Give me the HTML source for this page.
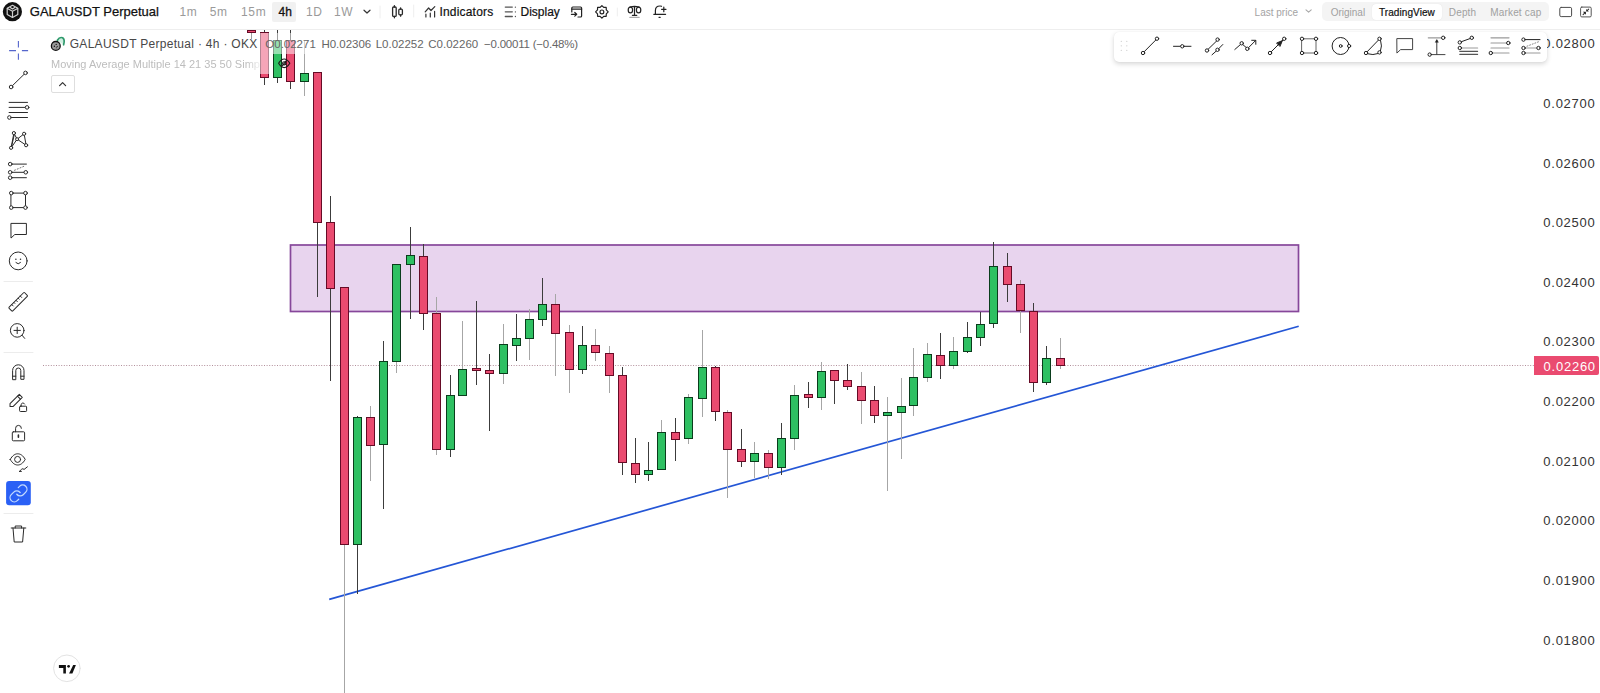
<!DOCTYPE html>
<html><head><meta charset="utf-8">
<style>
html,body{margin:0;padding:0;width:1600px;height:693px;overflow:hidden;background:#fff;font-family:"Liberation Sans",sans-serif;}
.t{position:absolute;white-space:nowrap;}
.a{position:absolute;}
svg{position:absolute;left:0;top:0;}
</style></head><body>
<!-- top bar bottom border -->
<div class="a" style="left:0;top:29px;width:1600px;height:1px;background:#eeeeee"></div>

<!-- chart -->
<svg width="1600" height="693" viewBox="0 0 1600 693">
<defs><clipPath id="cp"><rect x="36" y="30" width="1498" height="663"/></clipPath></defs>
<g clip-path="url(#cp)">
<rect x="290.5" y="245" width="1008" height="66.5" fill="#e8d4ee" stroke="#86479a" stroke-width="1.7"/>
<line x1="43" y1="365.5" x2="1534" y2="365.5" stroke="#b28f9b" stroke-width="1" stroke-dasharray="1 1.6"/>
<line x1="329.2" y1="599.4" x2="1298.7" y2="326.3" stroke="#2456d6" stroke-width="1.7"/>
<g shape-rendering="crispEdges">
<rect x="251" y="30.0" width="1" height="9.0" fill="#3c3c3c"/>
<rect x="247.5" y="30.0" width="8" height="2.3" fill="#ea4b70" stroke="#660b26" stroke-width="1"/>
<rect x="264" y="30.0" width="1" height="54.8" fill="#3c3c3c"/>
<rect x="260.5" y="32.1" width="8" height="45.6" fill="#ea4b70" stroke="#660b26" stroke-width="1"/>
<rect x="277" y="30.0" width="1" height="53.4" fill="#3c3c3c"/>
<rect x="273.5" y="40.1" width="8" height="37.6" fill="#2ec062" stroke="#0a3d1c" stroke-width="1"/>
<rect x="290" y="30.0" width="1" height="59.2" fill="#3c3c3c"/>
<rect x="286.5" y="40.1" width="8" height="41.6" fill="#ea4b70" stroke="#660b26" stroke-width="1"/>
<rect x="304" y="41.0" width="1" height="54.8" fill="#a6a6a6"/>
<rect x="300.5" y="73.0" width="8" height="8.8" fill="#2ec062" stroke="#0a3d1c" stroke-width="1"/>
<rect x="317" y="72.1" width="1" height="224.9" fill="#3c3c3c"/>
<rect x="313.5" y="72.1" width="8" height="150.1" fill="#ea4b70" stroke="#660b26" stroke-width="1"/>
<rect x="330" y="196.2" width="1" height="185.0" fill="#3c3c3c"/>
<rect x="326.5" y="222.8" width="8" height="65.9" fill="#ea4b70" stroke="#660b26" stroke-width="1"/>
<rect x="344" y="287.6" width="1" height="405.4" fill="#a6a6a6"/>
<rect x="340.5" y="287.6" width="8" height="257.0" fill="#ea4b70" stroke="#660b26" stroke-width="1"/>
<rect x="357" y="415.8" width="1" height="178.0" fill="#3c3c3c"/>
<rect x="353.5" y="417.9" width="8" height="126.7" fill="#2ec062" stroke="#0a3d1c" stroke-width="1"/>
<rect x="370" y="405.8" width="1" height="75.2" fill="#a6a6a6"/>
<rect x="366.5" y="417.9" width="8" height="27.1" fill="#ea4b70" stroke="#660b26" stroke-width="1"/>
<rect x="383" y="341.0" width="1" height="167.7" fill="#3c3c3c"/>
<rect x="379.5" y="361.4" width="8" height="82.8" fill="#2ec062" stroke="#0a3d1c" stroke-width="1"/>
<rect x="396" y="264.0" width="1" height="109.2" fill="#a6a6a6"/>
<rect x="392.5" y="264.0" width="8" height="97.5" fill="#2ec062" stroke="#0a3d1c" stroke-width="1"/>
<rect x="410" y="226.5" width="1" height="92.0" fill="#3c3c3c"/>
<rect x="406.5" y="255.0" width="8" height="9.8" fill="#2ec062" stroke="#0a3d1c" stroke-width="1"/>
<rect x="423" y="243.5" width="1" height="86.5" fill="#3c3c3c"/>
<rect x="419.5" y="256.1" width="8" height="57.8" fill="#ea4b70" stroke="#660b26" stroke-width="1"/>
<rect x="436" y="297.0" width="1" height="158.2" fill="#a6a6a6"/>
<rect x="432.5" y="313.9" width="8" height="135.6" fill="#ea4b70" stroke="#660b26" stroke-width="1"/>
<rect x="450" y="375.0" width="1" height="82.0" fill="#3c3c3c"/>
<rect x="446.5" y="395.0" width="8" height="54.0" fill="#2ec062" stroke="#0a3d1c" stroke-width="1"/>
<rect x="462" y="320.8" width="1" height="74.2" fill="#a6a6a6"/>
<rect x="458.5" y="369.0" width="8" height="26.0" fill="#2ec062" stroke="#0a3d1c" stroke-width="1"/>
<rect x="476" y="301.2" width="1" height="83.8" fill="#3c3c3c"/>
<rect x="472.5" y="368.4" width="8" height="1.6" fill="#ea4b70" stroke="#660b26" stroke-width="1"/>
<rect x="489" y="353.8" width="1" height="77.3" fill="#3c3c3c"/>
<rect x="485.5" y="370.1" width="8" height="3.7" fill="#ea4b70" stroke="#660b26" stroke-width="1"/>
<rect x="503" y="323.6" width="1" height="60.7" fill="#a6a6a6"/>
<rect x="499.5" y="344.7" width="8" height="28.9" fill="#2ec062" stroke="#0a3d1c" stroke-width="1"/>
<rect x="516" y="314.3" width="1" height="46.9" fill="#3c3c3c"/>
<rect x="512.5" y="338.6" width="8" height="7.2" fill="#2ec062" stroke="#0a3d1c" stroke-width="1"/>
<rect x="529" y="309.1" width="1" height="50.9" fill="#a6a6a6"/>
<rect x="525.5" y="319.6" width="8" height="19.2" fill="#2ec062" stroke="#0a3d1c" stroke-width="1"/>
<rect x="542" y="278.3" width="1" height="48.1" fill="#3c3c3c"/>
<rect x="538.5" y="304.2" width="8" height="15.6" fill="#2ec062" stroke="#0a3d1c" stroke-width="1"/>
<rect x="555" y="294.2" width="1" height="81.4" fill="#a6a6a6"/>
<rect x="551.5" y="304.2" width="8" height="28.9" fill="#ea4b70" stroke="#660b26" stroke-width="1"/>
<rect x="569" y="324.8" width="1" height="68.1" fill="#a6a6a6"/>
<rect x="565.5" y="332.4" width="8" height="37.2" fill="#ea4b70" stroke="#660b26" stroke-width="1"/>
<rect x="582" y="326.4" width="1" height="47.6" fill="#3c3c3c"/>
<rect x="578.5" y="345.7" width="8" height="23.9" fill="#2ec062" stroke="#0a3d1c" stroke-width="1"/>
<rect x="595" y="328.8" width="1" height="31.9" fill="#a6a6a6"/>
<rect x="591.5" y="345.7" width="8" height="6.7" fill="#ea4b70" stroke="#660b26" stroke-width="1"/>
<rect x="609" y="345.7" width="1" height="47.2" fill="#a6a6a6"/>
<rect x="605.5" y="353.4" width="8" height="22.0" fill="#ea4b70" stroke="#660b26" stroke-width="1"/>
<rect x="622" y="367.3" width="1" height="107.5" fill="#3c3c3c"/>
<rect x="618.5" y="375.0" width="8" height="87.6" fill="#ea4b70" stroke="#660b26" stroke-width="1"/>
<rect x="635" y="438.4" width="1" height="44.2" fill="#3c3c3c"/>
<rect x="631.5" y="463.1" width="8" height="11.7" fill="#ea4b70" stroke="#660b26" stroke-width="1"/>
<rect x="648" y="442.3" width="1" height="39.0" fill="#3c3c3c"/>
<rect x="644.5" y="470.1" width="8" height="4.7" fill="#2ec062" stroke="#0a3d1c" stroke-width="1"/>
<rect x="661" y="419.6" width="1" height="49.7" fill="#a6a6a6"/>
<rect x="657.5" y="432.4" width="8" height="36.9" fill="#2ec062" stroke="#0a3d1c" stroke-width="1"/>
<rect x="675" y="418.1" width="1" height="43.2" fill="#3c3c3c"/>
<rect x="671.5" y="432.4" width="8" height="7.3" fill="#ea4b70" stroke="#660b26" stroke-width="1"/>
<rect x="688" y="394.1" width="1" height="50.2" fill="#a6a6a6"/>
<rect x="684.5" y="397.3" width="8" height="41.2" fill="#2ec062" stroke="#0a3d1c" stroke-width="1"/>
<rect x="702" y="330.4" width="1" height="86.2" fill="#a6a6a6"/>
<rect x="698.5" y="367.4" width="8" height="30.6" fill="#2ec062" stroke="#0a3d1c" stroke-width="1"/>
<rect x="715" y="366.2" width="1" height="55.1" fill="#3c3c3c"/>
<rect x="711.5" y="367.3" width="8" height="44.1" fill="#ea4b70" stroke="#660b26" stroke-width="1"/>
<rect x="727" y="410.4" width="1" height="87.5" fill="#a6a6a6"/>
<rect x="723.5" y="412.2" width="8" height="36.9" fill="#ea4b70" stroke="#660b26" stroke-width="1"/>
<rect x="741" y="429.1" width="1" height="37.7" fill="#3c3c3c"/>
<rect x="737.5" y="449.9" width="8" height="11.7" fill="#ea4b70" stroke="#660b26" stroke-width="1"/>
<rect x="754" y="442.1" width="1" height="36.3" fill="#a6a6a6"/>
<rect x="750.5" y="453.2" width="8" height="8.4" fill="#2ec062" stroke="#0a3d1c" stroke-width="1"/>
<rect x="768" y="449.9" width="1" height="29.1" fill="#a6a6a6"/>
<rect x="764.5" y="453.2" width="8" height="14.3" fill="#ea4b70" stroke="#660b26" stroke-width="1"/>
<rect x="781" y="423.1" width="1" height="52.0" fill="#3c3c3c"/>
<rect x="777.5" y="438.2" width="8" height="29.3" fill="#2ec062" stroke="#0a3d1c" stroke-width="1"/>
<rect x="794" y="384.6" width="1" height="65.1" fill="#a6a6a6"/>
<rect x="790.5" y="395.0" width="8" height="43.6" fill="#2ec062" stroke="#0a3d1c" stroke-width="1"/>
<rect x="808" y="382.3" width="1" height="25.4" fill="#3c3c3c"/>
<rect x="804.5" y="394.3" width="8" height="3.4" fill="#ea4b70" stroke="#660b26" stroke-width="1"/>
<rect x="821" y="362.4" width="1" height="47.3" fill="#a6a6a6"/>
<rect x="817.5" y="371.2" width="8" height="26.5" fill="#2ec062" stroke="#0a3d1c" stroke-width="1"/>
<rect x="834" y="370.0" width="1" height="34.2" fill="#3c3c3c"/>
<rect x="830.5" y="370.5" width="8" height="10.4" fill="#ea4b70" stroke="#660b26" stroke-width="1"/>
<rect x="847" y="363.8" width="1" height="25.9" fill="#3c3c3c"/>
<rect x="843.5" y="380.9" width="8" height="5.6" fill="#ea4b70" stroke="#660b26" stroke-width="1"/>
<rect x="861" y="372.3" width="1" height="52.0" fill="#a6a6a6"/>
<rect x="857.5" y="386.1" width="8" height="14.5" fill="#ea4b70" stroke="#660b26" stroke-width="1"/>
<rect x="874" y="386.1" width="1" height="36.7" fill="#3c3c3c"/>
<rect x="870.5" y="400.4" width="8" height="15.3" fill="#ea4b70" stroke="#660b26" stroke-width="1"/>
<rect x="887" y="397.4" width="1" height="93.4" fill="#a6a6a6"/>
<rect x="883.5" y="412.7" width="8" height="2.9" fill="#2ec062" stroke="#0a3d1c" stroke-width="1"/>
<rect x="901" y="378.0" width="1" height="81.0" fill="#a6a6a6"/>
<rect x="897.5" y="406.1" width="8" height="6.6" fill="#2ec062" stroke="#0a3d1c" stroke-width="1"/>
<rect x="913" y="348.3" width="1" height="67.3" fill="#a6a6a6"/>
<rect x="909.5" y="377.5" width="8" height="28.0" fill="#2ec062" stroke="#0a3d1c" stroke-width="1"/>
<rect x="927" y="343.4" width="1" height="39.0" fill="#a6a6a6"/>
<rect x="923.5" y="354.9" width="8" height="22.6" fill="#2ec062" stroke="#0a3d1c" stroke-width="1"/>
<rect x="940" y="333.1" width="1" height="45.9" fill="#3c3c3c"/>
<rect x="936.5" y="355.6" width="8" height="10.2" fill="#ea4b70" stroke="#660b26" stroke-width="1"/>
<rect x="953" y="337.2" width="1" height="31.8" fill="#a6a6a6"/>
<rect x="949.5" y="351.6" width="8" height="14.2" fill="#2ec062" stroke="#0a3d1c" stroke-width="1"/>
<rect x="967" y="322.1" width="1" height="31.0" fill="#3c3c3c"/>
<rect x="963.5" y="337.7" width="8" height="14.1" fill="#2ec062" stroke="#0a3d1c" stroke-width="1"/>
<rect x="980" y="311.9" width="1" height="34.1" fill="#3c3c3c"/>
<rect x="976.5" y="324.3" width="8" height="13.6" fill="#2ec062" stroke="#0a3d1c" stroke-width="1"/>
<rect x="993" y="242.2" width="1" height="86.1" fill="#3c3c3c"/>
<rect x="989.5" y="266.4" width="8" height="57.4" fill="#2ec062" stroke="#0a3d1c" stroke-width="1"/>
<rect x="1007" y="252.5" width="1" height="49.1" fill="#3c3c3c"/>
<rect x="1003.5" y="266.3" width="8" height="18.1" fill="#ea4b70" stroke="#660b26" stroke-width="1"/>
<rect x="1020" y="280.2" width="1" height="52.3" fill="#a6a6a6"/>
<rect x="1016.5" y="284.4" width="8" height="26.5" fill="#ea4b70" stroke="#660b26" stroke-width="1"/>
<rect x="1033" y="303.0" width="1" height="88.8" fill="#3c3c3c"/>
<rect x="1029.5" y="311.6" width="8" height="70.9" fill="#ea4b70" stroke="#660b26" stroke-width="1"/>
<rect x="1046" y="345.7" width="1" height="39.2" fill="#3c3c3c"/>
<rect x="1042.5" y="358.7" width="8" height="23.8" fill="#2ec062" stroke="#0a3d1c" stroke-width="1"/>
<rect x="1060" y="337.8" width="1" height="31.4" fill="#a6a6a6"/>
<rect x="1056.5" y="358.7" width="8" height="6.6" fill="#ea4b70" stroke="#660b26" stroke-width="1"/>
</g>
</g>
</svg>

<!-- legend overlays -->
<div class="a" style="left:48px;top:33px;width:534px;height:21px;background:rgba(255,255,255,0.5)"></div>
<div class="a" style="left:48px;top:54px;width:223px;height:20px;background:rgba(255,255,255,0.5)"></div>

<!-- legend text -->
<div class="t" style="left:69.7px;top:38px;font-size:12px;line-height:13.404px;color:#484848;font-weight:normal;letter-spacing:0.3px">GALAUSDT Perpetual · 4h · OKX</div>
<div class="t" style="left:265.3px;top:38px;font-size:11.5px;line-height:12.845px;color:#666;font-weight:normal;">O0.02271</div>
<div class="t" style="left:321.4px;top:38px;font-size:11.5px;line-height:12.845px;color:#666;font-weight:normal;">H0.02306</div>
<div class="t" style="left:375.7px;top:38px;font-size:11.5px;line-height:12.845px;color:#666;font-weight:normal;">L0.02252</div>
<div class="t" style="left:428.3px;top:38px;font-size:11.5px;line-height:12.845px;color:#666;font-weight:normal;">C0.02260</div>
<div class="t" style="left:484px;top:38px;font-size:11.5px;line-height:12.845px;color:#666;font-weight:normal;letter-spacing:-0.22px">−0.00011 (−0.48%)</div>
<div class="a" style="left:51px;top:54px;width:212px;height:20px;overflow:hidden;-webkit-mask-image:linear-gradient(to right,#000 92%,transparent 100%)">
<div class="t" style="left:0px;top:4px;font-size:11px;line-height:12.287px;color:#bdbdbd;font-weight:normal;letter-spacing:0px">Moving Average Multiple 14 21 35 50 Simple</div>
</div>
<div class="a" style="left:51px;top:75px;width:22px;height:16px;border:1px solid #dedede;border-radius:2px;background:#fff"></div>

<!-- price axis labels -->
<div class="t" style="left:1543.3px;top:37px;font-size:13px;line-height:14.521px;color:#333;font-weight:normal;letter-spacing:0.75px">0.02800</div>
<div class="t" style="left:1543.3px;top:97px;font-size:13px;line-height:14.521px;color:#333;font-weight:normal;letter-spacing:0.75px">0.02700</div>
<div class="t" style="left:1543.3px;top:157px;font-size:13px;line-height:14.521px;color:#333;font-weight:normal;letter-spacing:0.75px">0.02600</div>
<div class="t" style="left:1543.3px;top:216px;font-size:13px;line-height:14.521px;color:#333;font-weight:normal;letter-spacing:0.75px">0.02500</div>
<div class="t" style="left:1543.3px;top:276px;font-size:13px;line-height:14.521px;color:#333;font-weight:normal;letter-spacing:0.75px">0.02400</div>
<div class="t" style="left:1543.3px;top:335px;font-size:13px;line-height:14.521px;color:#333;font-weight:normal;letter-spacing:0.75px">0.02300</div>
<div class="t" style="left:1543.3px;top:395px;font-size:13px;line-height:14.521px;color:#333;font-weight:normal;letter-spacing:0.75px">0.02200</div>
<div class="t" style="left:1543.3px;top:455px;font-size:13px;line-height:14.521px;color:#333;font-weight:normal;letter-spacing:0.75px">0.02100</div>
<div class="t" style="left:1543.3px;top:514px;font-size:13px;line-height:14.521px;color:#333;font-weight:normal;letter-spacing:0.75px">0.02000</div>
<div class="t" style="left:1543.3px;top:574px;font-size:13px;line-height:14.521px;color:#333;font-weight:normal;letter-spacing:0.75px">0.01900</div>
<div class="t" style="left:1543.3px;top:634px;font-size:13px;line-height:14.521px;color:#333;font-weight:normal;letter-spacing:0.75px">0.01800</div>
<div class="a" style="left:1534px;top:356px;width:64.5px;height:19px;background:#ea4b70;border-radius:0 2px 2px 0"></div>
<div class="t" style="left:1543.6px;top:360px;font-size:13px;line-height:14.521px;color:#fff;font-weight:normal;letter-spacing:0.75px">0.02260</div>

<!-- top bar texts -->
<div class="t" style="left:29.8px;top:5px;font-size:13px;line-height:14.521px;color:#111;font-weight:normal;-webkit-text-stroke:0.25px #111">GALAUSDT Perpetual</div>
<div class="t" style="left:179.4px;top:6px;font-size:12px;line-height:13.404px;color:#9a9a9a;font-weight:normal;letter-spacing:0.6px">1m</div>
<div class="t" style="left:209.8px;top:6px;font-size:12px;line-height:13.404px;color:#9a9a9a;font-weight:normal;letter-spacing:0.6px">5m</div>
<div class="t" style="left:241.1px;top:6px;font-size:12px;line-height:13.404px;color:#9a9a9a;font-weight:normal;letter-spacing:0.6px">15m</div>
<div class="a" style="left:272px;top:2.2px;width:24.2px;height:19.5px;background:#f1f1f1;border-radius:2px"></div>
<div class="t" style="left:278.6px;top:6px;font-size:12px;line-height:13.404px;color:#111;font-weight:normal;-webkit-text-stroke:0.3px #111">4h</div>
<div class="t" style="left:305.9px;top:6px;font-size:12px;line-height:13.404px;color:#9a9a9a;font-weight:normal;letter-spacing:0.6px">1D</div>
<div class="t" style="left:334px;top:6px;font-size:12px;line-height:13.404px;color:#9a9a9a;font-weight:normal;letter-spacing:0.6px">1W</div>
<div class="t" style="left:439.4px;top:6px;font-size:12px;line-height:13.404px;color:#111;font-weight:normal;letter-spacing:0.2px;-webkit-text-stroke:0.2px #111">Indicators</div>
<div class="t" style="left:520.5px;top:6px;font-size:12px;line-height:13.404px;color:#111;font-weight:normal;-webkit-text-stroke:0.2px #111">Display</div>
<div class="t" style="left:1254.6px;top:7px;font-size:10px;line-height:11.170px;color:#a3a3a3;font-weight:normal;">Last price</div>
<div class="a" style="left:1322px;top:2.3px;width:227.4px;height:19.2px;background:#f4f4f4;border-radius:5px"></div>
<div class="a" style="left:1372.3px;top:3.5px;width:69.5px;height:16.8px;background:#fff;border-radius:4px;box-shadow:0 0 1px rgba(0,0,0,0.12)"></div>
<div class="t" style="left:1330.7px;top:7px;font-size:10px;line-height:11.170px;color:#a0a0a0;font-weight:normal;">Original</div>
<div class="t" style="left:1379px;top:7px;font-size:10px;line-height:11.170px;color:#111;font-weight:normal;letter-spacing:0.08px;-webkit-text-stroke:0.2px #111">TradingView</div>
<div class="t" style="left:1448.8px;top:7px;font-size:10px;line-height:11.170px;color:#a0a0a0;font-weight:normal;letter-spacing:0.15px">Depth</div>
<div class="t" style="left:1490.2px;top:7px;font-size:10px;line-height:11.170px;color:#a0a0a0;font-weight:normal;letter-spacing:0.18px">Market cap</div>

<!-- floating drawing toolbar -->
<div class="a" style="left:1114px;top:31.5px;width:433px;height:30px;background:#fff;border-radius:5px;box-shadow:0 2px 5px rgba(0,0,0,0.16),0 0 1px rgba(0,0,0,0.08)"></div>

<svg width="1600" height="693" viewBox="0 0 1600 693" fill="none" stroke-linecap="round" stroke-linejoin="round">
<!-- ===== top bar ===== -->
<circle cx="12.4" cy="11.7" r="9.6" fill="#111"/>
<g stroke="#d0d0d0" stroke-width="1.2">
<path d="M12.5 5.3 L17.8 8.3 V14.4 L12.5 17.5 L7.2 14.4 V8.3 Z"/>
<path d="M7.4 8.5 L12.5 11.3 L17.6 8.5 M12.5 11.3 V17.3 M10.3 7.6 L12.5 8.9 L14.7 7.6"/>
</g>
<path d="M364 10.2 L367 13 L370 10.2" stroke="#333" stroke-width="1.2"/>
<line x1="380" y1="6" x2="380" y2="18" stroke="#eeeeee" stroke-width="1"/>
<g stroke="#2a2a2a" stroke-width="1.3">
<rect x="392.6" y="7" width="3.6" height="9.4" rx="1"/>
<path d="M394.4 5.6 V7 M394.4 16.4 V17.8"/>
<rect x="398.8" y="9.2" width="3.6" height="5.6" rx="1"/>
<path d="M400.6 7.8 V9.2 M400.6 14.8 V16.2"/>
</g>
<line x1="413.7" y1="5" x2="413.7" y2="17" stroke="#eeeeee" stroke-width="1"/>
<g stroke="#333" stroke-width="1.2">
<path d="M425.2 11.8 L428.6 8 L431 10.5 L434.8 6.6"/>
<path d="M425.9 14.2 V17 M430.3 13.2 V17 M434.6 11.4 V17"/>
</g>
<g stroke="#555" stroke-width="1.3">
<path d="M505.3 7.1 H512.3 M505.3 11.8 H512.3 M505.3 16.5 H512.3"/>
<path d="M515.4 7.1 V7.2 M515.4 11.8 V11.9 M515.4 16.5 V16.6"/>
</g>
<g stroke="#222" stroke-width="1.2">
<path d="M571.8 12 V8 Q571.8 7 572.8 7 H580.6 Q581.6 7 581.6 8 V16 Q581.6 17 580.6 17 H578"/>
<path d="M571.8 9.2 H581.6"/>
<path d="M571.4 14.3 H576.6 M574.8 12.5 L576.7 14.3 L574.8 16.1"/>
</g>
<g stroke="#222" stroke-width="1.2">
<path d="M601.9 5.6 L603.7 7.4 L606.2 7.4 L606.3 9.9 L608.2 11.8 L606.3 13.8 L606.2 16.3 L603.7 16.3 L601.9 18.1 L600.1 16.3 L597.6 16.3 L597.5 13.8 L595.6 11.8 L597.5 9.9 L597.6 7.4 L600.1 7.4 Z"/>
<circle cx="601.9" cy="11.9" r="1.9"/>
</g>
<line x1="617.3" y1="8" x2="617.3" y2="16" stroke="#eeeeee" stroke-width="1"/>
<g stroke="#222" stroke-width="1.2">
<ellipse cx="630.4" cy="10" rx="2.2" ry="2.9"/>
<ellipse cx="638.6" cy="10" rx="2.2" ry="2.9"/>
<path d="M634.5 6.5 V15.3 M632.4 15.3 H636.8 M630 7 Q634.5 5.6 639 7"/>
</g>
<line x1="629.8" y1="17.3" x2="639.2" y2="17.3" stroke="#aaa" stroke-width="1.2"/>
<g stroke="#222" stroke-width="1.2">
<path d="M655.4 14.3 V10.5 Q655.4 6 660 6 Q661 6 661.5 6.3"/>
<path d="M653.8 14.3 H665.6 M661.6 9.3 H666 M663.8 7.1 V11.7"/>
<path d="M659 17.3 H660.2"/>
</g>
<!-- right top icons -->
<path d="M1306 9.8 L1308.6 12.2 L1311.2 9.8" stroke="#a8a8a8" stroke-width="1.1"/>
<rect x="1559.8" y="7.4" width="11.8" height="9.2" rx="1.4" stroke="#4a4a4a" stroke-width="1"/>
<rect x="1580.6" y="7.1" width="10.6" height="9.8" rx="1.2" stroke="#555" stroke-width="1"/>
<g stroke="#333" stroke-width="1">
<path d="M1583.1 14.7 L1584.4 13.4 M1588.7 9.1 L1587.4 10.4" stroke-width="1.1"/><path d="M1582.9 11.8 L1585.9 11.8 L1585.9 14.8 Z M1586.2 9 L1586.2 11.6 L1588.8 11.6 Z" fill="#222" stroke="none"/>
</g>

<!-- ===== left sidebar ===== -->
<g stroke="#5566cc" stroke-width="1.1" stroke-linecap="butt">
<path d="M9.1 50.6 H16 M21.9 50.6 H28.1 M18.4 41 V47.6 M18.4 53.6 V59.7"/>
</g>
<g stroke="#2a2a2a" stroke-width="1" fill="#fff">
<line x1="12.4" y1="85.7" x2="24.2" y2="74.2"/>
<circle cx="11.1" cy="87" r="1.8"/>
<circle cx="25.5" cy="72.9" r="1.8"/>
<!-- lines icon -->
<path d="M9.1 102.4 H27.5 M9.1 107.4 H25.3 M9.1 112.5 H27.5 M11.2 117.5 H27.5" fill="none"/>
<circle cx="27.1" cy="107.4" r="1.8"/>
<circle cx="9.4" cy="117.5" r="1.8"/>
<!-- xabcd -->
<path d="M11.1 147.8 L13.9 133.1 L17.1 139.2 L24.1 133.8 L26.1 145.2 L17.1 139.2 L11.1 147.8 M11.6 146.5 L14.3 134.5" fill="none"/>
<circle cx="13.9" cy="133.1" r="1.6"/>
<circle cx="24.1" cy="133.8" r="1.6"/>
<circle cx="17.1" cy="139.2" r="1.5"/>
<circle cx="11.1" cy="147.8" r="1.6"/>
<circle cx="26.1" cy="145.2" r="1.6"/>
<!-- fib -->
<path d="M12 164.1 H26.4 M12 172.3 H24 M12 177.7 H26.4" fill="none"/>
<path d="M14.5 170.3 L25.5 165.6" fill="none" stroke-dasharray="1 2" stroke="#777"/>
<circle cx="10.2" cy="164.1" r="1.8"/>
<circle cx="10.2" cy="172.3" r="1.8"/>
<circle cx="25.8" cy="172.3" r="1.8"/>
<circle cx="10.2" cy="177.7" r="1.8"/>
<!-- rect -->
<rect x="11.3" y="193.1" width="14.2" height="14.5" fill="none"/>
<circle cx="11.3" cy="193.1" r="1.8"/>
<circle cx="25.5" cy="193.1" r="1.8"/>
<circle cx="11.3" cy="207.6" r="1.8"/>
<circle cx="25.5" cy="207.6" r="1.8"/>
<!-- comment -->
<path d="M11.3 223.4 H26.4 V234.5 H14.8 L11.3 237.8 Z" fill="none"/>
<!-- smile -->
<circle cx="18.2" cy="260.9" r="8.9" fill="none"/>
<path d="M15.9 262.6 Q18.2 265.2 20.5 262.6" fill="none"/>
</g>
<g fill="#2a2a2a">
<circle cx="15.9" cy="259.2" r="0.75"/>
<circle cx="20.5" cy="259.2" r="0.75"/>
</g>
<g stroke="#ececec" stroke-width="1">
<path d="M4 281.5 H32.5 M4 352.5 H33 M4 513.5 H33"/>
</g>
<g stroke="#2a2a2a" stroke-width="1" fill="none">
<!-- ruler -->
<g transform="translate(18.2 301.8) rotate(-45)">
<rect x="-11" y="-2.6" width="22" height="5.2" rx="0.8"/>
<path d="M-6.5 -2.6 V-0.6 M-3.5 -2.6 V-1.2 M-0.5 -2.6 V-0.6 M2.5 -2.6 V-1.2 M5.5 -2.6 V-0.6" stroke-width="0.9"/>
</g>
<!-- zoom -->
<circle cx="17.2" cy="330.4" r="6.8"/>
<path d="M14 330.4 H20.4 M17.2 327.2 V333.6 M22.1 335.3 L24.7 338.4"/>
<!-- magnet -->
<path d="M12.6 379.3 V370.5 A5.7 5.7 0 0 1 24 370.5 V379.3 H20.8 V370.5 A2.5 2.5 0 0 0 15.8 370.5 V379.3 Z"/>
<path d="M12.6 376.2 H15.8 M20.8 376.2 H24"/>
<!-- pencil lock -->
<g transform="translate(15.4 401.2) rotate(-45)">
<path d="M-7.6 0 L-5.5 -2.1 H7.6 V2.1 H-5.5 Z"/>
<path d="M5 -2.1 V2.1"/>
</g>
<rect x="19.6" y="406.2" width="7" height="5.3" rx="0.8"/>
<path d="M21.2 406.2 V404.6 A1.8 1.8 0 0 1 24.6 404"/>
<!-- lock -->
<rect x="12.3" y="431.8" width="12.3" height="9" rx="1"/>
<path d="M15.6 431.8 V428.3 A2.9 2.9 0 0 1 21.4 428.3"/>
<path d="M18.4 435 V437.2" stroke-width="1.6"/>
<!-- eye -->
<path d="M10.2 459.4 C12.5 455.4 15 453.8 17.7 453.8 C20.4 453.8 23 455.4 25.2 459.4 C23 463.4 20.4 465 17.7 465 C15 465 12.5 463.4 10.2 459.4 Z"/>
<circle cx="17.6" cy="459.4" r="3"/>
<path d="M19.4 471.4 L21.7 469.2 Q23 468 24 469.5 L27.4 466.8 M19.4 471.4 H21.4"/>
<!-- trash -->
<path d="M11.2 528 H25.8 M15.2 528 V526 H21.6 V528 M13 528 L14.2 542 H22.6 L23.8 528"/>
</g>
<rect x="6.1" y="480.9" width="24.7" height="24.4" rx="3" fill="#2a60f5"/>
<g stroke="#c4dbff" stroke-width="1.5" fill="none" stroke-linecap="round" transform="translate(8.3 483.2) scale(0.85)">
<path d="M10 13a5 5 0 0 0 7.54.54l3-3a5 5 0 0 0-7.07-7.07l-1.72 1.71"/>
<path d="M14 11a5 5 0 0 0-7.54-.54l-3 3a5 5 0 0 0 7.07 7.07l1.71-1.71"/>
</g>
<!-- TV logo -->
<circle cx="66.9" cy="668.3" r="13.3" fill="#fff" stroke="#e3e3e3" stroke-width="1"/>
<g fill="#111">
<path d="M58.9 664.9 H65.9 V673.5 H63.3 V667.9 H58.9 Z"/>
<circle cx="68.6" cy="666.3" r="1.35"/>
<path d="M69.1 673.5 L73.2 664.9 H75.9 L72.4 673.5 Z"/>
</g>
<!-- legend logo -->
<path d="M57.4 40.2 Q59.6 36.6 62.6 37.8 Q65.2 39.6 63.6 44.8" stroke="#2f9a6c" stroke-width="1.7" fill="#cfeee0"/>
<circle cx="55.8" cy="45.9" r="4.4" fill="#9a9a9a" stroke="#111" stroke-width="1.3"/>
<g fill="#111"><circle cx="56.2" cy="44.4" r="0.7"/><circle cx="54.4" cy="46.3" r="0.7"/><circle cx="57.2" cy="46.6" r="0.6"/><circle cx="56.3" cy="47.7" r="0.5"/></g>
<!-- collapse chevron -->
<path d="M59.6 85.6 L62.6 82.6 L65.6 85.6" stroke="#333" stroke-width="1.2"/>
<!-- eye slash in legend -->
<g stroke="#1a1a1a" stroke-width="1.15" fill="none">
<path d="M278.6 63.3 C280.5 60.2 282.3 59 284.2 59 C286.1 59 287.9 60.2 289.8 63.3 C287.9 66.4 286.1 67.6 284.2 67.6 C282.3 67.6 280.5 66.4 278.6 63.3 Z"/>
<circle cx="284.2" cy="63.3" r="1.6"/>
<path d="M282.2 66 L286.3 60.6"/>
</g>

<!-- ===== floating toolbar icons ===== -->
<g fill="#cccccc">
<circle cx="1121.3" cy="41.3" r="0.65"/><circle cx="1126.8" cy="41.3" r="0.65"/>
<circle cx="1121.3" cy="45.8" r="0.65"/><circle cx="1126.8" cy="45.8" r="0.65"/>
<circle cx="1121.3" cy="50.3" r="0.65"/><circle cx="1126.8" cy="50.3" r="0.65"/>
</g>
<g stroke="#222" stroke-width="1" fill="#fff">
<line x1="1144.2" y1="51.7" x2="1155.8" y2="40"/>
<circle cx="1143" cy="53" r="1.7"/>
<circle cx="1157" cy="38.7" r="1.7"/>
<path d="M1173.5 46.3 H1180.6 M1184 46.3 H1191"/>
<circle cx="1182.3" cy="46.3" r="1.7"/>
<path d="M1208.2 49.2 L1216.8 40.8 M1212 54.8 L1216.3 51 M1218.8 48.6 L1222.8 44.5"/>
<circle cx="1217.6" cy="39.6" r="1.7"/>
<circle cx="1207" cy="50.5" r="1.7"/>
<circle cx="1217.5" cy="49.8" r="1.7"/>
<path d="M1234.8 49.5 L1240.5 44.5 M1242.8 44.6 L1246.3 47.6 M1248.6 47.6 L1255.5 40.6 M1251.7 40.3 H1255.8 V44.3" fill="none"/>
<circle cx="1241.7" cy="43.3" r="1.7"/>
<circle cx="1247.3" cy="48.8" r="1.7"/>
<!-- arrow -->
<line x1="1271.2" y1="51.8" x2="1283" y2="40"/>
<path d="M1276.9 42.9 L1282.4 40.6 L1280.1 46.1 Z" fill="#222"/>
<circle cx="1270" cy="53" r="1.7"/>
<circle cx="1284.2" cy="38.8" r="1.7"/>
<!-- rect -->
<rect x="1302" y="38.8" width="14" height="14.2" fill="none" stroke="#666"/>
<circle cx="1302" cy="38.8" r="1.7"/>
<circle cx="1316" cy="38.8" r="1.7"/>
<circle cx="1302" cy="53" r="1.7"/>
<circle cx="1316" cy="53" r="1.7"/>
<!-- circle -->
<circle cx="1340.6" cy="46" r="8.5" fill="none"/>
<circle cx="1340.7" cy="46" r="1.4"/>
<circle cx="1349.1" cy="46" r="1.6"/>
<!-- curve -->
<path d="M1367.2 51.7 L1378.4 40.1 M1380.6 40.4 Q1382.5 46 1380.4 51.3 M1378 53.6 Q1373 55.5 1367.6 53.8" fill="none"/>
<circle cx="1379.5" cy="38.8" r="1.7"/>
<circle cx="1366" cy="53" r="1.7"/>
<circle cx="1379.5" cy="52.4" r="1.7"/>
<!-- bubble -->
<path d="M1397.2 38.6 H1412.6 V49.6 H1400.6 L1397.2 52.8 Z" fill="none" stroke="#444"/>
<!-- price range -->
<path d="M1428.3 37.8 H1441.2" fill="none" stroke="#999" stroke-width="1.2"/><path d="M1431.6 54.6 H1445" fill="none" stroke="#444"/>
<path d="M1436.8 40.6 V54" fill="none" stroke-width="0.9"/>
<path d="M1435.5 42 L1436.8 39.6 L1438.1 42 Z" fill="#222" stroke-width="0.6"/>
<circle cx="1443.2" cy="37.8" r="1.7"/>
<circle cx="1429.7" cy="54.6" r="1.7"/>
<!-- fib-like -->
<path d="M1461.4 41.7 L1470.2 38.5" fill="none"/>
<path d="M1461.6 48 H1477.6" fill="none" stroke="#999" stroke-width="1.2"/>
<path d="M1459.8 51.4 H1477.6 M1459.8 54.4 H1477.6" fill="none" stroke="#555" stroke-width="1.1"/>
<circle cx="1459.8" cy="42.4" r="1.7"/>
<circle cx="1471.8" cy="37.8" r="1.7"/>
<circle cx="1459.8" cy="48" r="1.7"/>
<!-- lines -->
<path d="M1491 37.8 H1509 M1491 43 H1506.6 M1491 48 H1509 M1492.6 53 H1509" fill="none" stroke="#999" stroke-width="1.2"/>
<circle cx="1508.3" cy="43" r="1.7"/>
<circle cx="1490.8" cy="53" r="1.7"/>
<!-- last -->
<path d="M1525.2 39.6 H1540" fill="none"/>
<path d="M1525.2 48 H1536.8 M1525.2 53 H1540" fill="none" stroke="#999" stroke-width="1.2"/>
<path d="M1527 46.2 L1539 41.6" fill="none" stroke="#888" stroke-dasharray="1 1.8"/>
<circle cx="1523.5" cy="39.6" r="1.7"/>
<circle cx="1523.5" cy="48" r="1.7"/>
<circle cx="1538.5" cy="48" r="1.7"/>
<circle cx="1523.5" cy="53" r="1.7"/>
</g>
</svg>

</body></html>
